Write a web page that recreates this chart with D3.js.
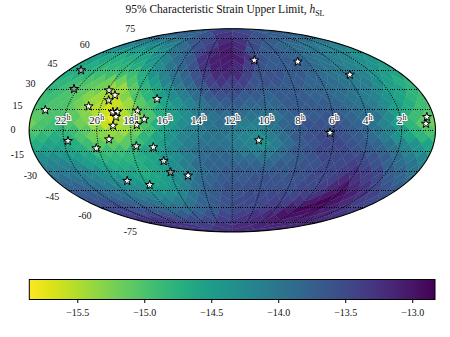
<!DOCTYPE html>
<html>
<head>
<meta charset="utf-8">
<script src="https://cdn.jsdelivr.net/npm/d3@7"></script>
<style>
  html, body { margin: 0; padding: 0; background: #fff; }
  text { font-family: "Liberation Serif", serif; fill: #111; }
</style>
</head>
<body>
<div id="chart"></div>
<script>
// log10 of the strain limit per HEALPix pixel (nside 8, ring order)
// every ring is listed as it reads on screen, left to right (24h -> 0h)
var rings = [
  [-13.7,-13.4,-13.5,-13.7],
  [-13.8,-13.8,-13.6,-13.3,-13.4,-13.6,-13.7,-13.8],
  [-14.0,-14.1,-14.0,-13.7,-13.5,-13.2,-13.3,-13.6,-13.7,-13.8,-13.9,-14.0],
  [-14.2,-14.3,-14.3,-14.2,-13.9,-13.6,-13.4,-13.1,-13.2,-13.5,-13.7,-13.8,-13.9,-14.0,-14.1,-14.2],
  [-14.4,-14.5,-14.5,-14.5,-14.3,-14.0,-13.8,-13.5,-13.2,-13.05,-13.2,-13.6,-13.7,-13.7,-13.8,-13.9,-14.0,-14.1,-14.2,-14.3],
  [-14.5,-14.6,-14.7,-14.7,-14.6,-14.4,-14.2,-13.9,-13.7,-13.3,-13.1,-13.05,-13.1,-13.3,-13.6,-13.7,-13.7,-13.8,-13.9,-14.0,-14.1,-14.2,-14.3,-14.4],
  [-14.6,-14.7,-14.8,-14.8,-14.8,-14.7,-14.5,-14.3,-14.0,-13.8,-13.6,-13.3,-13.1,-13.1,-13.2,-13.4,-13.6,-13.7,-13.7,-13.7,-13.8,-13.9,-14.0,-14.1,-14.2,-14.3,-14.4,-14.5],
  [-14.7,-14.7,-14.8,-14.9,-14.9,-14.9,-14.9,-14.7,-14.4,-14.2,-14.0,-13.8,-13.6,-13.4,-13.2,-13.2,-13.2,-13.4,-13.6,-13.6,-13.6,-13.7,-13.7,-13.8,-13.9,-14.0,-14.0,-14.1,-14.2,-14.4,-14.5,-14.6],
  [-14.8,-14.8,-14.9,-15.0,-15.1,-15.2,-15.2,-15.0,-14.7,-14.5,-14.2,-14.0,-13.8,-13.6,-13.4,-13.3,-13.4,-13.4,-13.6,-13.6,-13.6,-13.7,-13.7,-13.8,-13.8,-13.9,-14.0,-14.1,-14.1,-14.3,-14.5,-14.7],
  [-14.8,-14.9,-15.0,-15.1,-15.2,-15.4,-15.4,-15.1,-14.8,-14.6,-14.4,-14.1,-13.9,-13.7,-13.5,-13.5,-13.5,-13.6,-13.7,-13.7,-13.7,-13.7,-13.8,-13.8,-13.9,-13.9,-14.0,-14.1,-14.3,-14.5,-14.6,-14.8],
  [-14.9,-14.9,-15.0,-15.1,-15.3,-15.4,-15.5,-15.3,-15.0,-14.8,-14.5,-14.3,-14.1,-13.9,-13.7,-13.6,-13.6,-13.7,-13.7,-13.8,-13.7,-13.7,-13.7,-13.8,-13.8,-13.9,-14.0,-14.1,-14.2,-14.4,-14.6,-14.8],
  [-14.9,-15.0,-15.0,-15.2,-15.4,-15.5,-15.6,-15.4,-15.1,-14.9,-14.6,-14.4,-14.2,-14.0,-13.8,-13.7,-13.7,-13.8,-13.8,-13.8,-13.7,-13.7,-13.7,-13.7,-13.8,-13.9,-14.0,-14.1,-14.3,-14.5,-14.7,-14.9],
  [-15.0,-15.0,-15.0,-15.1,-15.3,-15.5,-15.65,-15.5,-15.3,-15.0,-14.7,-14.5,-14.3,-14.1,-13.9,-13.8,-13.8,-13.9,-13.9,-13.9,-13.8,-13.7,-13.7,-13.7,-13.7,-13.8,-13.9,-14.0,-14.2,-14.5,-14.7,-14.9],
  [-15.1,-15.0,-15.0,-15.1,-15.3,-15.5,-15.8,-15.5,-15.3,-15.0,-14.7,-14.5,-14.3,-14.1,-14.0,-13.9,-13.9,-14.0,-14.0,-14.0,-13.8,-13.7,-13.7,-13.6,-13.7,-13.8,-13.9,-14.0,-14.3,-14.6,-14.9,-15.1],
  [-15.2,-15.0,-14.9,-15.0,-15.2,-15.4,-15.6,-15.5,-15.3,-15.0,-14.7,-14.5,-14.3,-14.2,-14.0,-13.9,-14.0,-14.1,-14.1,-14.0,-13.8,-13.7,-13.6,-13.6,-13.6,-13.7,-13.8,-14.0,-14.2,-14.5,-14.8,-15.1],
  [-15.0,-14.9,-14.8,-14.9,-15.1,-15.3,-15.4,-15.4,-15.2,-14.9,-14.6,-14.4,-14.2,-14.1,-14.0,-14.0,-14.1,-14.2,-14.2,-14.0,-13.8,-13.7,-13.6,-13.6,-13.6,-13.7,-13.8,-14.0,-14.2,-14.5,-14.8,-15.0],
  [-14.9,-14.8,-14.7,-14.8,-15.0,-15.2,-15.3,-15.3,-15.1,-14.8,-14.6,-14.4,-14.2,-14.1,-14.0,-14.0,-14.1,-14.2,-14.3,-14.1,-13.9,-13.7,-13.6,-13.5,-13.5,-13.6,-13.7,-13.9,-14.1,-14.4,-14.6,-14.8],
  [-14.7,-14.6,-14.6,-14.7,-14.9,-15.1,-15.1,-15.1,-14.9,-14.7,-14.5,-14.3,-14.1,-14.0,-14.0,-14.0,-14.1,-14.2,-14.35,-14.1,-13.9,-13.7,-13.6,-13.5,-13.5,-13.6,-13.7,-13.8,-14.0,-14.2,-14.4,-14.6],
  [-14.6,-14.5,-14.5,-14.6,-14.7,-14.9,-14.9,-14.9,-14.8,-14.6,-14.5,-14.3,-14.1,-14.0,-13.9,-13.9,-14.0,-14.1,-14.2,-14.1,-13.9,-13.7,-13.6,-13.5,-13.5,-13.5,-13.6,-13.7,-13.8,-14.0,-14.2,-14.4],
  [-14.3,-14.3,-14.4,-14.5,-14.6,-14.8,-14.8,-14.8,-14.7,-14.6,-14.4,-14.3,-14.1,-13.9,-13.8,-13.8,-13.9,-13.9,-14.0,-13.9,-13.8,-13.7,-13.6,-13.5,-13.5,-13.5,-13.5,-13.6,-13.7,-13.9,-14.1,-14.2],
  [-14.2,-14.2,-14.2,-14.3,-14.5,-14.6,-14.7,-14.7,-14.7,-14.6,-14.5,-14.3,-14.1,-13.9,-13.8,-13.8,-13.8,-13.8,-13.8,-13.8,-13.7,-13.7,-13.6,-13.6,-13.5,-13.5,-13.4,-13.5,-13.6,-13.8,-13.9,-14.0],
  [-14.1,-14.1,-14.1,-14.2,-14.3,-14.5,-14.6,-14.6,-14.7,-14.6,-14.5,-14.3,-14.1,-13.9,-13.8,-13.7,-13.7,-13.7,-13.7,-13.7,-13.7,-13.6,-13.6,-13.5,-13.5,-13.4,-13.3,-13.4,-13.5,-13.7,-13.8,-14.0],
  [-13.9,-13.9,-14.0,-14.1,-14.2,-14.3,-14.4,-14.5,-14.6,-14.6,-14.5,-14.3,-14.1,-13.9,-13.8,-13.7,-13.7,-13.7,-13.6,-13.6,-13.6,-13.6,-13.6,-13.5,-13.5,-13.4,-13.2,-13.3,-13.4,-13.5,-13.7,-13.8],
  [-13.8,-13.8,-13.9,-14.0,-14.1,-14.2,-14.3,-14.4,-14.5,-14.5,-14.4,-14.2,-14.0,-13.8,-13.7,-13.6,-13.6,-13.6,-13.6,-13.6,-13.6,-13.6,-13.5,-13.5,-13.4,-13.2,-13.05,-13.2,-13.3,-13.5,-13.6,-13.7],
  [-13.7,-13.7,-13.8,-13.9,-14.0,-14.1,-14.2,-14.3,-14.3,-14.2,-14.0,-13.8,-13.7,-13.6,-13.6,-13.5,-13.5,-13.5,-13.5,-13.5,-13.4,-13.3,-13.05,-12.95,-13.1,-13.3,-13.4,-13.6],
  [-13.6,-13.6,-13.7,-13.8,-13.9,-14.0,-14.1,-14.1,-14.0,-13.8,-13.7,-13.6,-13.5,-13.5,-13.5,-13.4,-13.4,-13.3,-13.05,-12.87,-13.0,-13.2,-13.4,-13.5],
  [-13.5,-13.5,-13.6,-13.7,-13.8,-13.9,-13.9,-13.8,-13.7,-13.6,-13.5,-13.5,-13.4,-13.3,-13.1,-12.9,-12.95,-13.1,-13.3,-13.4],
  [-13.4,-13.5,-13.5,-13.6,-13.7,-13.7,-13.6,-13.5,-13.4,-13.3,-13.2,-13.0,-12.95,-13.05,-13.2,-13.3],
  [-13.3,-13.3,-13.4,-13.5,-13.5,-13.4,-13.3,-13.2,-13.1,-13.1,-13.1,-13.2],
  [-13.3,-13.3,-13.4,-13.3,-13.2,-13.15,-13.15,-13.2],
  [-13.3,-13.3,-13.2,-13.2]
];

// sources, right ascension in hours and declination in degrees
var starRA  = [23.07,22.23,23.27,19.92,19.38,19.64,20.73,17.70,16.67,19.17,18.91,18.93,17.23,17.65,19.05,21.76,19.31,20.16,17.74,16.73,16.25,16.0,14.92,19.16,17.79,10.21,6.76,3.71,0.41,0.54,6.23,10.43];
var starDec = [44.9,30.2,14.6,29.2,25.5,21.7,17.3,14.1,22.7,13.2,13.2,9.6,7.9,3.8,3.3,-7.7,-6.5,-13,-11.5,-12.2,-22.3,-30.7,-33.3,-37.4,-40.6,53.3,52.1,41.3,9.6,4.7,-1.9,-7.2];
var starTone = [0.55,0.5,1,0.8,1,0.8,1,0.85,1,1,1,1,1,0.9,1,0.85,1,1,0.85,1,0.8,0.5,1,0.85,1,1,1,1,1,1,1,1];

var latTicks = [75,60,45,30,15,0,-15,-30,-45,-60,-75];
var raTicks = [22,20,18,16,14,12,10,8,6,4,2];
var cbarTicks = [-15.5,-15.0,-14.5,-14.0,-13.5,-13.0];
var cbarDomain = [-15.858,-12.83];

var nside = 8;
var W = 450, H = 337;
var cx = 232.3, cy = 130.3, a = 203.2, b = 101.6;

var svg = d3.select("#chart").append("svg")
  .attr("width", W)
  .attr("height", H)
  .style("display", "block");

// right ascension runs backwards across the map
var xScale = d3.scaleLinear().domain([-1, 1]).range([cx - a, cx + a]);
var yScale = d3.scaleLinear().domain([-1, 1]).range([cy + b, cy - b]);
var color = d3.scaleSequential(function(t) { return d3.interpolateViridis(1 - t); }).domain(cbarDomain);

// mollweide, ra in hours, dec in degrees
function mollweide(ra, dec) {
  var phi = dec * Math.PI / 180;
  var th = phi;
  if (Math.abs(dec) > 89.999) {
    th = dec > 0 ? Math.PI / 2 : -Math.PI / 2;
  } else {
    for (var n = 0; n < 30; n++) {
      th -= (2 * th + Math.sin(2 * th) - Math.PI * Math.sin(phi)) / (2 + 2 * Math.cos(2 * th));
    }
  }
  return [xScale((12 - ra) / 12 * Math.cos(th)), yScale(Math.sin(th))];
}

// healpix plane (x, y in radians) back to ra / dec
function fromPlane(x, y) {
  var ay = Math.abs(y);
  var lon = x, z;
  if (ay <= Math.PI / 4) {
    z = 8 / (3 * Math.PI) * y;
  } else {
    var sigma = 2 - 4 * ay / Math.PI;
    z = (1 - sigma * sigma / 3) * (y > 0 ? 1 : -1);
    if (ay < Math.PI / 2 - 1e-9) {
      var m = Math.PI / 2;
      var xt = ((x % m) + m) % m;
      lon = x - (ay - Math.PI / 4) / (ay - Math.PI / 2) * (xt - Math.PI / 4);
    }
  }
  return [lon * 12 / Math.PI, Math.asin(z) * 180 / Math.PI];
}

// pixel centres in the plane
function pixelCentre(i, k) {
  var count = rings[i - 1].length;
  var j = count - k; // arrays read right to left in phi
  var yc = Math.PI / 4 * (2 - i / nside);
  var xc;
  if (i >= nside && i <= 3 * nside) {
    var s = (i - nside + 1) % 2;
    xc = Math.PI / (2 * nside) * (j - s / 2);
  } else {
    var r = i < nside ? i : 4 * nside - i;
    var f = Math.floor((j - 1) / r);
    var jj = j - f * r;
    xc = Math.PI / 4 + f * Math.PI / 2 + (jj - (r + 1) / 2) * Math.PI / (2 * nside);
  }
  return [xc, yc];
}

function pixelPath(xc, yc, shift) {
  var d = Math.PI / (4 * nside);
  var corners = [[xc, yc + d], [xc + d, yc], [xc, yc - d], [xc - d, yc]];
  var pts = [];
  corners.forEach(function(c, idx) {
    var e = corners[(idx + 1) % 4];
    d3.range(6).forEach(function(t) {
      var u = t / 6;
      var p = fromPlane(c[0] + (e[0] - c[0]) * u, c[1] + (e[1] - c[1]) * u);
      pts.push(mollweide(p[0] + shift, p[1]));
    });
  });
  return d3.line()(pts) + "Z";
}

var outline = d3.range(0, 361, 2).map(function(t) {
  var r = t * Math.PI / 180;
  return [xScale(Math.cos(r)), yScale(Math.sin(r))];
});

svg.append("clipPath").attr("id", "sky")
  .append("path").attr("d", d3.line()(outline) + "Z");

var map = svg.append("g").attr("clip-path", "url(#sky)");

rings.forEach(function(vals, r) {
  vals.forEach(function(v, k) {
    var c = pixelCentre(r + 1, k);
    // pixels that straddle the 0h edge are drawn on both sides
    [0, -24, 24].forEach(function(shift) {
      map.append("path")
        .attr("d", pixelPath(c[0], c[1], shift))
        .attr("fill", color(v))
        .attr("stroke", color(v))
        .attr("stroke-width", 0.4);
    });
  });
});

// grid
var gridLine = d3.line();
var grid = svg.append("g").attr("clip-path", "url(#sky)")
  .attr("fill", "none")
  .attr("stroke", "#000")
  .attr("stroke-width", 1)
  .attr("stroke-dasharray", "1,1.4");

latTicks.forEach(function(dec) {
  grid.append("path")
    .attr("d", gridLine([mollweide(24, dec), mollweide(0, dec)]))
    .attr("shape-rendering", "crispEdges");
});
raTicks.forEach(function(ra) {
  var pts = d3.range(-75, 75.5, 2.5).map(function(dec) { return mollweide(ra, dec); });
  grid.append("path").attr("d", gridLine(pts));
});

svg.append("path")
  .attr("d", d3.line()(outline) + "Z")
  .attr("fill", "none")
  .attr("stroke", "#000")
  .attr("stroke-width", 1.1);

// stars
var star = d3.symbol().type(d3.symbolStar).size(25);
svg.append("g").selectAll("path")
  .data(starRA)
  .enter().append("path")
  .attr("d", star)
  .attr("transform", function(d, i) {
    var p = mollweide(d, starDec[i]);
    return "translate(" + p[0] + "," + p[1] + ")";
  })
  .attr("fill", function(d, i) { return d3.interpolateGreys(1 - starTone[i]); })
  .attr("stroke", "#000")
  .attr("stroke-width", 1)
  .attr("stroke-linejoin", "round");

// right ascension labels
var raLabels = svg.append("g");
raTicks.forEach(function(ra) {
  var p = mollweide(ra, 0);
  var t = raLabels.append("text")
    .attr("x", p[0])
    .attr("y", p[1] - 6)
    .attr("text-anchor", "middle")
    .attr("font-size", 11)
    .style("paint-order", "stroke")
    .style("stroke", "#fff")
    .style("stroke-width", 2.2)
    .style("stroke-linejoin", "round");
  t.append("tspan").text(ra);
  t.append("tspan").text("h").attr("font-size", 8).attr("dy", -4);
});

// latitude labels
latTicks.forEach(function(dec) {
  var p = mollweide(0, dec);
  var off = dec == 0 ? 0 : (dec > 0 ? -2 : 2);
  svg.append("text")
    .attr("x", mollweide(24, dec)[0] - 16)
    .attr("y", p[1] + off - dec * 0.1 + 3)
    .attr("text-anchor", "middle")
    .attr("font-size", 10)
    .text(dec);
});

// title
var title = svg.append("text")
  .attr("x", 225)
  .attr("y", 13)
  .attr("text-anchor", "middle")
  .attr("font-size", 11.5);
title.append("tspan").text("95% Characteristic Strain Upper Limit, ");
title.append("tspan").text("h").attr("font-style", "italic");
title.append("tspan").text("SL").attr("font-size", 8).attr("dy", 2.5);

// colour bar
var barX = d3.scaleLinear().domain(cbarDomain).range([29.3, 435]);
var defs = svg.append("defs");
var grad = defs.append("linearGradient").attr("id", "cbar");
d3.range(0, 1.001, 0.05).forEach(function(t) {
  grad.append("stop")
    .attr("offset", t)
    .attr("stop-color", d3.interpolateViridis(1 - t));
});
svg.append("rect")
  .attr("x", barX.range()[0])
  .attr("y", 279.5)
  .attr("width", barX.range()[1] - barX.range()[0])
  .attr("height", 20)
  .attr("fill", "url(#cbar)")
  .attr("stroke", "#000")
  .attr("stroke-width", 1);

var barAxis = d3.axisBottom(barX)
  .tickValues(cbarTicks)
  .tickSize(3.5)
  .tickFormat(function(d) { return "\u2212" + Math.abs(d).toFixed(1); });
var axisG = svg.append("g")
  .attr("transform", "translate(0,299.5)")
  .call(barAxis);
axisG.select(".domain").remove();
axisG.selectAll("text").attr("font-size", 10).attr("font-family", "Liberation Serif").attr("dy", "0.95em");
</script>
</body>
</html>
